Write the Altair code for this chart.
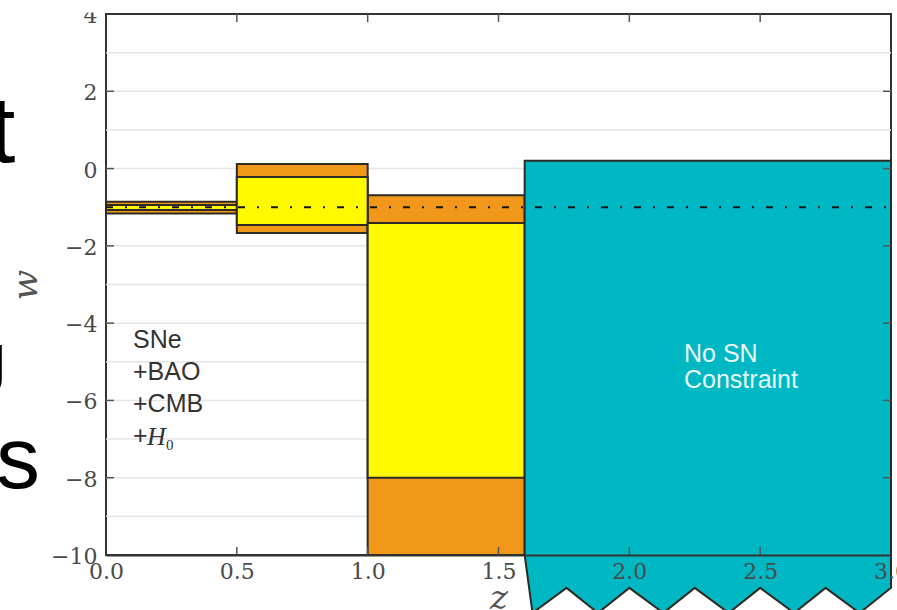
import altair as alt
import pandas as pd

# Redshift bins with the allowed w range: orange = outer band, yellow = inner band
bin_z_lo = [0.0, 0.5, 1.0]
bin_z_hi = [0.5, 1.0, 1.6]
outer_w_hi = [-0.86, 0.12, -0.69]
outer_w_lo = [-1.16, -1.67, -10.0]
inner_w_hi = [-0.94, -0.22, -1.41]
inner_w_lo = [-1.07, -1.46, -8.0]

# Unconstrained high-redshift region; its lower edge is drawn jagged (unbounded)
free_z = [1.6, 1.63, 1.76, 1.88, 2.0, 2.13, 2.25, 2.38, 2.5, 2.63, 2.75, 2.88, 3.0]
free_w_lo = [-10.0, -11.5, -10.85, -11.5, -10.85, -11.5, -10.85,
             -11.5, -10.85, -11.5, -10.85, -11.5, -10.85]
free_w_hi = [0.2] * len(free_z)

# Cosmological-constant reference line
lcdm_w = -1.0
lcdm_z = [0.0, 3.0]

x_ticks = [0.0, 0.5, 1.0, 1.5, 2.0, 2.5, 3.0]
y_ticks = [-10, -8, -6, -4, -2, 0, 2, 4]
grid_w = [-9, -8, -7, -6, -5, -4, -3, -2, -1, 0, 1, 2, 3]

W, H = 785, 541
ORANGE = "#F1981A"
YELLOW = "#FFFA00"
CYAN = "#00B8C4"
EDGE = "#2e2a24"
LABEL_GREY = "#4a4a4a"

XS = alt.Scale(domain=[0, 3], nice=False, zero=False)
YS = alt.Scale(domain=[-10, 4], nice=False, zero=False)

x_axis = alt.Axis(
    values=x_ticks, format=".1f", title="z", grid=False, ticks=False, tickSize=0,
    domain=True, domainColor="#333333", domainWidth=2,
    labelFont="DejaVu Serif", labelFontSize=22, labelColor=LABEL_GREY,
    labelPadding=6, labelFlush=False, labelOverlap=False,
    titleFont="DejaVu Serif", titleFontStyle="italic", titleFontWeight="normal",
    titleFontSize=34, titleColor="#555555", titleY=53, titleBaseline="alphabetic",
    zindex=1,
)
y_axis = alt.Axis(
    values=y_ticks, format="d", title="w", grid=False, ticks=False, tickSize=0,
    domain=False, labelFont="DejaVu Serif", labelFontSize=22, labelColor=LABEL_GREY,
    labelPadding=9, labelOffset=1.5, labelOverlap=False,
    titleFont="DejaVu Serif", titleFontStyle="italic", titleFontWeight="normal",
    titleFontSize=36, titleColor="#555555", titleX=-70, titleY=H / 2,
    titleAngle=270, titleAlign="center", titleBaseline="alphabetic", zindex=0,
)


def X(field):
    return alt.X(field, type="quantitative", scale=XS, axis=x_axis)


def Y(field):
    return alt.Y(field, type="quantitative", scale=YS, axis=y_axis)


one = pd.DataFrame({"k": [0]})

grid = alt.Chart(pd.DataFrame({"w": grid_w})).mark_rule(
    color="#e6e6e6", strokeWidth=1.5
).encode(y=Y("w"), x=alt.value(0), x2=alt.value(W))

bins = pd.DataFrame({
    "z_lo": bin_z_lo, "z_hi": bin_z_hi,
    "outer_hi": outer_w_hi, "outer_lo": outer_w_lo,
    "inner_hi": inner_w_hi, "inner_lo": inner_w_lo,
})

outer = alt.Chart(bins).mark_rect(fill=ORANGE, stroke=EDGE, strokeWidth=2).encode(
    x=X("z_lo"), x2="z_hi:Q", y=Y("outer_hi"), y2="outer_lo:Q")
inner = alt.Chart(bins).mark_rect(fill=YELLOW, stroke=EDGE, strokeWidth=2).encode(
    x=X("z_lo"), x2="z_hi:Q", y=Y("inner_hi"), y2="inner_lo:Q")

free = alt.Chart(pd.DataFrame({"z": free_z, "w_lo": free_w_lo, "w_hi": free_w_hi})).mark_area(
    fill=CYAN, stroke=EDGE, strokeWidth=2, fillOpacity=1, opacity=1
).encode(x=X("z"), y=Y("w_lo"), y2="w_hi:Q")

lcdm = alt.Chart(pd.DataFrame({"z0": [lcdm_z[0]], "z1": [lcdm_z[1]], "w": [lcdm_w]})).mark_rule(
    color="#161616", strokeWidth=2, strokeDash=[7, 12, 2, 12]
).encode(x=X("z0"), x2="z1:Q", y=Y("w"))

# Inward-pointing ticks on all four sides
ytk = pd.DataFrame({"w": y_ticks[1:-1]})
xtk = pd.DataFrame({"z": x_ticks[1:-1]})
tick_style = dict(color="#555555", strokeWidth=1.5)
ticks_left = alt.Chart(ytk).mark_rule(**tick_style).encode(
    y=Y("w"), x=alt.value(0), x2=alt.value(8))
ticks_right = alt.Chart(ytk).mark_rule(**tick_style).encode(
    y=Y("w"), x=alt.value(W - 8), x2=alt.value(W))
ticks_bottom = alt.Chart(xtk).mark_rule(**tick_style).encode(
    x=X("z"), y=alt.value(H - 8), y2=alt.value(H))
ticks_top = alt.Chart(xtk).mark_rule(**tick_style).encode(
    x=X("z"), y=alt.value(0), y2=alt.value(8))


def label(text, x, y, **style):
    return alt.Chart(one).mark_text(text=text, align="left", baseline="alphabetic", **style).encode(
        x=alt.value(x), y=alt.value(y))


probes = label(["SNe", "+BAO", "+CMB", "+"], 27, 334, font="Liberation Sans",
               fontSize=25, lineHeight=32, color="#333333")
hubble = label("H", 41, 431, font="Liberation Serif", fontStyle="italic",
               fontSize=26, color="#333333")
hubble_sub = label("0", 60, 436, font="Liberation Serif", fontSize=15, color="#333333")
no_sn = label(["No SN", "Constraint"], 578, 348, font="Liberation Sans",
              fontSize=25, lineHeight=26, color="#e8f7f7")

# Blank strip above the frame
top_mask = alt.Chart(one).mark_rect(fill="white").encode(
    x=alt.value(-60), x2=alt.value(-2), y=alt.value(-14), y2=alt.value(-1.5))

# Slide text running off the left edge
slide_t = label("t", -117, 148, font="Liberation Sans", fontSize=95, color="black")
slide_j = label("J", -134, 380, font="Liberation Sans", fontSize=70, color="black")
slide_s = label("s", -110, 474, font="Liberation Sans", fontSize=88, color="black")

chart = alt.layer(
    grid, outer, inner, free, lcdm, probes, hubble, hubble_sub, no_sn,
    ticks_left, ticks_right, ticks_bottom, ticks_top, top_mask,
    slide_t, slide_j, slide_s,
).properties(
    width=W, height=H,
    autosize=alt.AutoSizeParams(type="none"),
    padding={"left": 106, "top": 14, "right": 6, "bottom": 55},
).configure_view(stroke="#333333", strokeWidth=2)

chart.save("out.html", embed_options={"renderer": "svg", "actions": False})
